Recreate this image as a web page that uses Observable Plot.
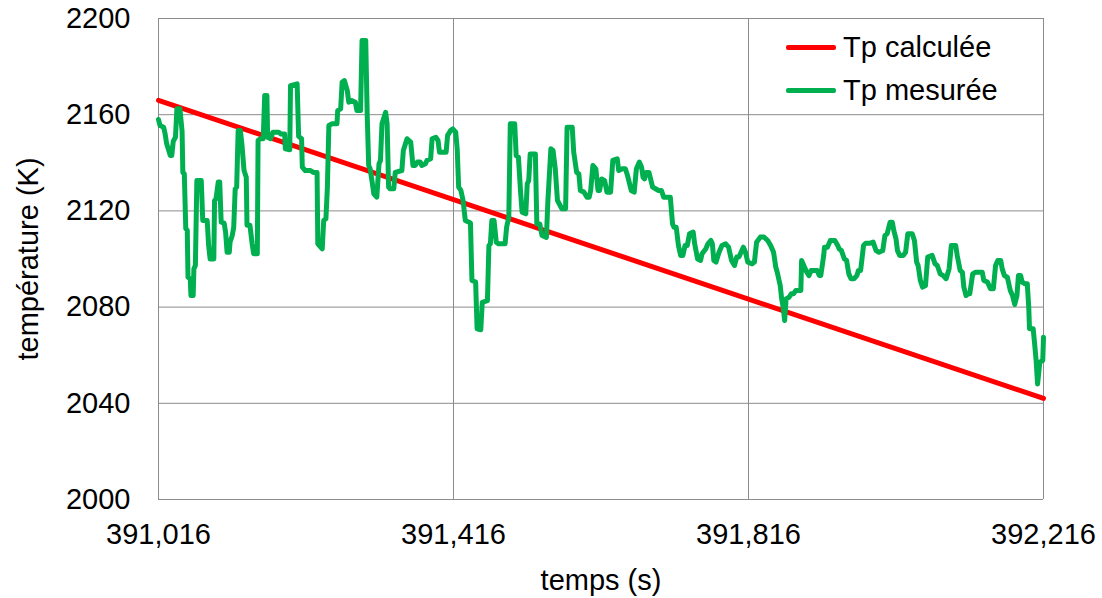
<!DOCTYPE html>
<html>
<head>
<meta charset="utf-8">
<script src="https://cdn.jsdelivr.net/npm/d3@7"></script>
<script src="https://cdn.jsdelivr.net/npm/@observablehq/plot@0.6"></script>
<style>
  html, body { margin: 0; padding: 0; background: #fff; }
  #wrap { position: relative; width: 1102px; height: 598px; font-family: "Liberation Sans", Arial, sans-serif; }
  #legend { position: absolute; left: 786px; top: 26px; font-size: 29px; color: #000; }
  .item { display: flex; align-items: center; height: 43px; }
  .sw { width: 50px; height: 5px; margin-right: 7px; border-radius: 2px; }
</style>
</head>
<body>
<div id="wrap"><div id="legend"></div></div>
<script>
// ---- data ----
const t0 = 391016;
const xTicks = [391016, 391416, 391816, 392216];
const yTicks = [2000, 2040, 2080, 2120, 2160, 2200];

// Tp calculée (straight line)
const tempsCalc = [391016, 392216];
const tpCalculee = [2166, 2042];

// Tp mesurée : time offset (s) from t0 and temperature (K)
const dtMes = [0,2,7,9,11,16,18,20,23,25,29,32,33,35,37,39,40,43,44,47,48,50,52,58,60,66,68,70,75,76,78,81,83,85,89,91,93,96,97,100,102,104,106,108,111,113,116,119,120,124,127,129,134,135,138,142,144,147,148,152,155,163,166,171,172,178,179,188,190,194,195,199,206,210,215,216,222,224,227,229,231,235,242,243,247,249,252,256,258,262,267,269,274,276,281,283,285,287,290,292,296,299,301,303,308,310,312,314,319,321,330,332,337,342,345,348,351,355,357,362,364,369,371,376,379,381,390,392,396,399,403,405,407,410,413,416,421,423,425,430,432,437,439,446,448,450,452,455,458,461,470,472,475,477,483,485,488,491,493,498,500,502,504,511,513,517,520,526,528,532,535,538,541,547,552,554,561,563,567,570,572,577,581,584,586,589,593,596,598,601,605,608,613,616,622,624,629,633,636,641,645,648,652,655,657,659,661,665,670,674,678,682,685,694,697,699,702,705,708,711,714,717,720,725,727,731,735,737,742,745,749,751,753,756,760,764,769,773,777,781,784,787,793,796,799,805,808,811,816,821,826,830,834,837,839,843,845,847,849,851,855,858,861,864,871,872,875,879,882,885,893,896,898,902,903,907,911,917,921,923,926,930,933,936,939,943,947,949,952,956,959,965,969,973,977,982,985,988,992,995,997,1000,1002,1005,1010,1013,1016,1022,1025,1028,1030,1033,1036,1040,1043,1049,1053,1056,1060,1064,1068,1072,1075,1081,1083,1087,1090,1092,1095,1098,1100,1104,1108,1117,1119,1124,1128,1132,1135,1138,1142,1144,1147,1151,1155,1158,1161,1164,1166,1169,1171,1175,1178,1180,1181,1186,1188,1190,1192,1195,1199,1200];
const tpMesuree = [2158,2155.5,2154.8,2152,2148,2143,2143,2149,2150.6,2162.5,2162.5,2153,2136,2135.4,2112.6,2111.9,2092.4,2091.8,2084.8,2084.8,2095.9,2097.3,2132.6,2132.6,2116,2116,2105.6,2100,2100,2124.3,2125,2132,2132,2115.3,2114.9,2111.1,2102.8,2102.8,2107,2109.8,2113.2,2129.2,2129.9,2153.4,2153.4,2148,2136.8,2134,2114,2114,2106.3,2102.2,2102.2,2149.3,2150,2150,2168,2168,2150.6,2150,2152.7,2152.7,2152,2152,2145.8,2145.4,2172.1,2172.8,2151,2150,2138.2,2136.8,2136.8,2136,2136,2106.3,2104.2,2116,2116.7,2129.9,2155.5,2156.2,2156.2,2161.7,2162.4,2173.5,2174.2,2170,2165.2,2165.9,2165.2,2161.7,2161.7,2190.9,2190.9,2159.7,2138.9,2137.5,2131.3,2127.1,2125.7,2139.6,2141,2156.2,2161,2156.2,2129.9,2129.2,2129.2,2136,2136.8,2145.1,2150,2148.6,2138.9,2138.9,2140.3,2140.3,2138.9,2139.6,2141,2141.7,2150,2150.6,2149.3,2144.4,2144.4,2151.4,2153.4,2154.1,2152.7,2145.8,2129.9,2128.5,2124.3,2116,2115.3,2115,2091.1,2090.4,2071,2070.6,2082,2082.7,2105.6,2106.3,2116,2116,2107,2106.3,2106.3,2113.2,2117.4,2156.2,2156.2,2143,2142.4,2127.8,2119.5,2118.8,2131.3,2132.6,2143.7,2143.7,2114.6,2114.6,2109.8,2109,2124.3,2145.8,2145.1,2137.5,2124.3,2120.9,2120.9,2154.8,2154.8,2144.4,2136,2135.4,2128.5,2127.8,2125.7,2125.7,2128.5,2138.9,2137.5,2128.5,2128.5,2133.3,2132.6,2127.8,2127.8,2141,2141.7,2136.8,2137.5,2137.5,2134.7,2128.5,2127.8,2137.5,2140.3,2138.2,2134,2133.3,2136,2136,2129.9,2129.2,2128.5,2128.5,2125.7,2125.7,2114.6,2113.2,2113.2,2105.6,2101.5,2101.5,2105.6,2105.6,2110.5,2111.2,2106.3,2100,2099.4,2102.2,2104.2,2106.3,2107.7,2106.3,2099.4,2098.7,2102.8,2105.6,2106.3,2104.9,2099.4,2097.3,2100.8,2100.8,2104.9,2102.8,2098.7,2098,2098.7,2107,2109.1,2109.1,2107.7,2105.6,2102.8,2096.6,2094.5,2089,2083.4,2080,2074.4,2083.4,2084.1,2085.5,2085.5,2086.9,2086.9,2099.4,2097.3,2094.5,2093.1,2095.2,2095.2,2093.1,2093.1,2101.5,2104.9,2104.9,2107.7,2107.7,2105.6,2104.2,2103.5,2100,2099.4,2093.8,2091.8,2091.8,2093.1,2095.2,2095.2,2105.6,2106.6,2106.6,2107,2103.5,2102.8,2103.5,2109.8,2110.5,2115.3,2115.3,2111.9,2108.4,2103.5,2101.5,2101.5,2102.8,2110.5,2110.5,2107.7,2098.7,2097.3,2091.1,2088.3,2089,2100.8,2101.5,2098,2097.3,2093.8,2093.1,2091.8,2095.9,2105.6,2105.6,2101.5,2095.2,2094.5,2088.3,2084.8,2085.5,2085.5,2093.8,2094.5,2094.5,2091.1,2090.4,2087.6,2087.6,2097.3,2099.4,2099.4,2095.9,2093.1,2092.4,2086.9,2084.8,2081.1,2084.8,2093.1,2093.1,2090.4,2089.7,2089.7,2080,2071,2071,2064.7,2057.8,2048,2057.1,2057.8,2067.5];

const seriesNames = ["Tp calculée", "Tp mesurée"];
const seriesColors = ["#FF0000", "#00B050"];

// ---- tables ----
const calc = tempsCalc.map((t, i) => ({t, T: tpCalculee[i]}));
const mes = dtMes.map((d, i) => ({t: t0 + d, T: tpMesuree[i]}));

const chart = Plot.plot({
  width: 1102,
  height: 598,
  marginLeft: 158,
  marginRight: 59,
  marginTop: 18,
  marginBottom: 99,
  style: {fontFamily: "'Liberation Sans', Arial, sans-serif", fontSize: "29px", color: "#000", background: "#fff"},
  x: {domain: [391016, 392216]},
  y: {domain: [2000, 2200]},
  marks: [
    Plot.gridX(xTicks, {stroke: "#8c8c8c", strokeOpacity: 1, strokeWidth: 1}),
    Plot.gridY(yTicks, {stroke: "#8c8c8c", strokeOpacity: 1, strokeWidth: 1}),
    Plot.axisX(xTicks, {tickSize: 0, tickPadding: 24, tickFormat: d3.format(","), label: "temps (s)", labelAnchor: "center", labelArrow: "none", labelOffset: 90, fill: "#000"}),
    Plot.axisY(yTicks, {tickSize: 0, tickPadding: 28, tickFormat: d3.format("d"), label: "température (K)", labelAnchor: "center", labelArrow: "none", labelOffset: 141, fill: "#000"}),
    Plot.line(calc, {x: "t", y: "T", stroke: seriesColors[0], strokeWidth: 5}),
    Plot.line(mes, {x: "t", y: "T", stroke: seriesColors[1], strokeWidth: 5, strokeLinejoin: "round"})
  ]
});
document.getElementById("wrap").prepend(chart);

const legend = document.getElementById("legend");
seriesNames.forEach((name, i) => {
  const item = document.createElement("div");
  item.className = "item";
  const sw = document.createElement("div");
  sw.className = "sw";
  sw.style.background = seriesColors[i];
  const label = document.createElement("span");
  label.textContent = name;
  item.append(sw, label);
  legend.append(item);
});
</script>
</body>
</html>
